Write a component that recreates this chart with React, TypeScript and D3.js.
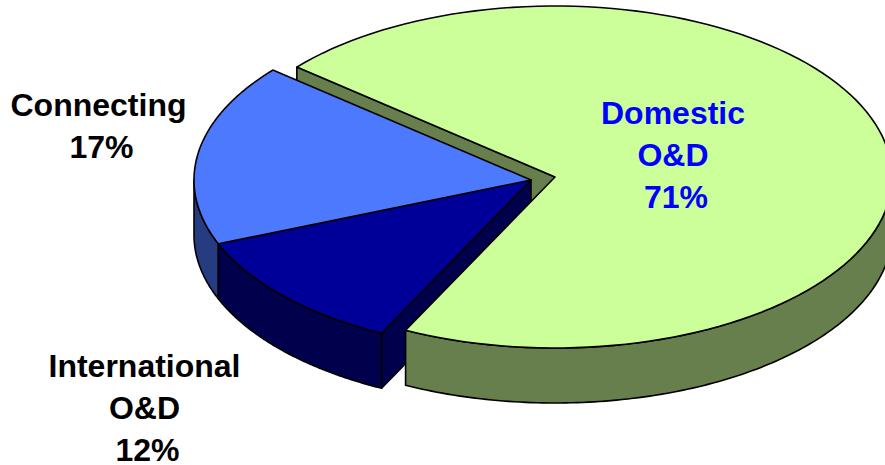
import * as d3 from 'd3';

const categories = ['Domestic O&D', 'International O&D', 'Connecting'];
const shares = [71.2, 11.6, 17.2];
const topColors = ['#CCFF99', '#000099', '#4D79FF'];
const sideColors = ['#667F4C', '#00004C', '#263C80'];
const labelLines = [
  ['Domestic', 'O&D', '71%'],
  ['International', 'O&D', '12%'],
  ['Connecting', '17%'],
];

const width = 885;
const height = 465;
const rx = 337;
const ry = 171;
const depth = 55;
const startAngle = (310 * Math.PI) / 180;

// exploded slice sits a bit up and to the right of the other two
const centers = [
  { x: 555, y: 177 },
  { x: 531, y: 180 },
  { x: 531, y: 180 },
];
const labelPos = [
  { x: 673, y: 124, fill: '#0000FF' },
  { x: 144.5, y: 377, fill: '#000000' },
  { x: 98.5, y: 116, fill: '#000000' },
];

const pie = d3
  .pie<number>()
  .sort(null)
  .startAngle(startAngle)
  .endAngle(startAngle + 2 * Math.PI);
const arcs = pie(shares);

const px = d3.scaleLinear([-1, 1], [-rx, rx]);
const py = d3.scaleLinear([-1, 1], [ry, -ry]);
const line = d3.line();

const pt = (i: number, a: number, dy = 0): [number, number] => [
  centers[i].x + px(Math.sin(a)),
  centers[i].y + py(Math.cos(a)) + dy,
];

const rim = (i: number, a0: number, a1: number, dy = 0) =>
  d3.range(0, 121).map((k) => pt(i, a0 + ((a1 - a0) * k) / 120, dy));

const top = (i: number) => {
  const c: [number, number] = [centers[i].x, centers[i].y];
  return line([c, ...rim(i, arcs[i].startAngle, arcs[i].endAngle), c]) + 'Z';
};

// outer wall of the slice, only the part of the rim that faces the viewer
const outerWall = (i: number, a0: number, a1: number) =>
  line([...rim(i, a0, a1), ...rim(i, a1, a0, depth)]) + 'Z';

// flat wall along one of the cut edges
const cutWall = (i: number, a: number) => {
  const c = centers[i];
  const p = pt(i, a);
  return (
    line([
      [c.x, c.y],
      p,
      [p[0], p[1] + depth],
      [c.x, c.y + depth],
    ]) + 'Z'
  );
};

const wallProps = { stroke: '#000', strokeWidth: 1.6, strokeLinejoin: 'round' as const };

export default function App() {
  const turn = Math.PI * 2;
  return (
    <svg
      width={width}
      height={height}
      style={{ position: 'absolute', left: 0, top: 0, background: '#fff' }}
    >
      {/* back wall of the big slice, seen through the gap */}
      <path d={cutWall(0, arcs[0].startAngle)} fill={sideColors[0]} {...wallProps} />

      {/* walls of the two blue slices */}
      <path d={cutWall(1, arcs[1].startAngle)} fill={sideColors[1]} {...wallProps} />
      <path d={outerWall(2, arcs[2].startAngle, turn + 1.5 * Math.PI)} fill={sideColors[2]} {...wallProps} />
      <path d={outerWall(1, arcs[1].startAngle, arcs[1].endAngle)} fill={sideColors[1]} {...wallProps} />

      {/* big slice goes over the navy wall */}
      <path d={outerWall(0, turn + Math.PI / 2, arcs[0].endAngle)} fill={sideColors[0]} {...wallProps} />
      <path d={top(0)} fill={topColors[0]} {...wallProps} />

      <path d={top(1)} fill={topColors[1]} {...wallProps} />
      <path d={top(2)} fill={topColors[2]} {...wallProps} />

      {categories.map((name, i) => (
        <text
          key={name}
          textAnchor="middle"
          fontFamily="Liberation Sans"
          fontWeight="bold"
          fontSize={32}
          fill={labelPos[i].fill}
        >
          {labelLines[i].map((t, k) => (
            <tspan
              key={t}
              x={labelPos[i].x + (t.endsWith('%') ? 3 : 0)}
              y={labelPos[i].y + k * 42}
            >
              {t}
            </tspan>
          ))}
        </text>
      ))}
    </svg>
  );
}
